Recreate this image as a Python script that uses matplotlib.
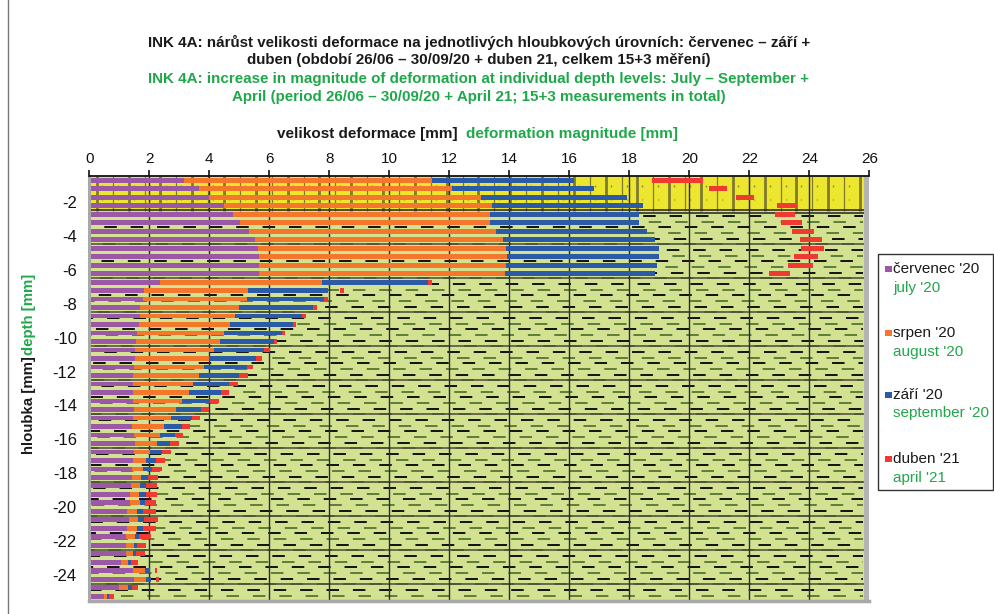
import matplotlib
matplotlib.use("Agg")
import matplotlib.pyplot as plt
from matplotlib.patches import Rectangle
from matplotlib.lines import Line2D
from matplotlib.transforms import ScaledTranslation
import numpy as np

plt.rcParams['font.family'] = ['Liberation Sans', 'DejaVu Sans']
plt.rcParams['lines.scale_dashes'] = False

# depth levels (m), one bar per 0.5 m
depth = [-0.5 * (i + 1) for i in range(50)]

# cumulative deformation at the end of each period [mm]
jul_total = [3.16, 3.66, 4.00, 4.49, 4.79, 5.02, 5.32, 5.52, 5.62, 5.66,
             5.66, 5.66, 2.36, 1.82, 1.79, 1.69, 1.69, 1.66, 1.59, 1.56,
             1.52, 1.52, 1.49, 1.46, 1.46, 1.46, 1.46, 1.49, 1.46, 1.42,
             1.49, 1.52, 1.49, 1.46, 1.42, 1.42, 1.39, 1.36, 1.36, 1.26,
             1.32, 1.26, 1.22, 1.22, 1.22, 1.06, 1.46, 1.49, 0.99, 0.49]
aug_total = [11.41, 12.09, 13.06, 13.42, 13.36, 13.36, 13.56, 13.79, 13.89, 13.92,
             13.89, 13.86, 7.76, 5.29, 5.26, 4.99, 4.86, 4.69, 4.49, 4.36,
             4.16, 3.99, 3.82, 3.66, 3.46, 3.32, 3.09, 2.89, 2.72, 2.49,
             2.36, 2.26, 2.02, 1.89, 1.79, 1.72, 1.69, 1.66, 1.69, 1.59,
             1.62, 1.59, 1.52, 1.49, 1.46, 1.29, 1.86, 1.89, 1.29, 0.59]
sep_total = [16.16, 16.82, 17.92, 18.46, 18.32, 18.32, 18.59, 18.86, 18.99, 18.99,
             18.92, 18.86, 11.28, 7.96, 7.82, 7.46, 7.09, 6.79, 6.42, 6.16,
             5.82, 5.56, 5.26, 4.99, 4.66, 4.39, 4.02, 3.72, 3.42, 3.09,
             2.86, 2.69, 2.42, 2.22, 2.09, 1.96, 1.89, 1.89, 1.86, 1.79,
             1.82, 1.79, 1.66, 1.59, 1.56, 1.39, 2.02, 2.06, 1.42, 0.66]
# April 2021 measurement: extent of the bar [mm]
apr_from = [18.76, 20.66, 21.56, 22.91, 22.85, 23.05, 23.42, 23.69, 23.72, 23.49,
            23.29, 22.65, 11.28, 8.35, 7.82, 7.46, 7.09, 6.79, 6.42, 6.16,
            5.82, 5.56, 5.26, 4.99, 4.66, 4.39, 4.02, 3.72, 3.42, 3.09,
            2.86, 2.69, 2.42, 2.22, 2.09, 1.96, 1.89, 1.89, 1.86, 1.79,
            1.82, 1.79, 1.66, 1.59, 1.56, 1.39, 2.19, 2.22, 1.42, 0.66]
apr_to = [20.45, 21.26, 22.16, 23.58, 23.52, 23.75, 24.16, 24.42, 24.49, 24.29,
          24.12, 23.36, 11.41, 8.50, 7.96, 7.59, 7.22, 6.89, 6.52, 6.26,
          6.02, 5.76, 5.46, 5.29, 4.96, 4.66, 4.32, 3.99, 3.69, 3.36,
          3.12, 2.99, 2.72, 2.52, 2.42, 2.29, 2.26, 2.26, 2.22, 2.22,
          2.29, 2.22, 2.06, 1.89, 1.86, 1.62, 2.26, 2.32, 1.62, 0.82]

x_ticks = list(range(0, 27, 2))
y_ticks = [-2, -4, -6, -8, -10, -12, -14, -16, -18, -20, -22, -24]

C_JUL = '#9b58a5'
C_AUG = '#f4772b'
C_SEP = '#2b5aa6'
C_APR = '#ee3a30'
C_GREEN_TXT = '#1fa84a'
C_CLAY = '#d2e291'
C_SAND = '#ede62e'

W, H = 995, 614
fig = plt.figure(figsize=(W / 100, H / 100), dpi=100)
fig.patch.set_facecolor('white')

def fx(px):
    return px / W

def fy(py):
    return 1 - py / H

ax = fig.add_axes([fx(89.3), fy(600.5), fx(869.3) - fx(89.3), fy(176) - fy(600.5)])
Y_TOP, Y_BOT = -0.26, -25.24
ax.set_xlim(0, 26)
ax.set_ylim(Y_BOT, Y_TOP)

# geological background: sandy top layer and clay below
sand_base = -2.32
ax.axhspan(Y_BOT, sand_base, color=C_CLAY, zorder=0, lw=0)
ax.axhspan(sand_base, Y_TOP, color=C_SAND, zorder=0, lw=0)
for i, xv in enumerate(np.arange(0.25, 25.8, 0.53)):
    ax.vlines(xv, sand_base, Y_TOP, colors='#7f7b2c', lw=2.0 if i % 2 == 0 else 0.9, zorder=0.5)
    ax.vlines(xv + 0.17, -0.9, -0.8, colors='#8f8b40', lw=1.0, zorder=0.5)
    ax.vlines(xv + 0.17, -1.7, -1.6, colors='#8f8b40', lw=1.0, zorder=0.5)

# clay symbol: dashed strokes
rows = np.arange(-2.62, -25.2, -1 / 3)
for i, yv in enumerate(rows):
    col = '#111111' if i % 2 == 0 else '#5f7d38'
    off = (i * 37) % 22
    ax.hlines(yv, 0, 25.8, colors=col, lw=1.4,
              linestyles=[(off, (9, 10))], zorder=0.6)

# layer boundaries
ax.axhline(-2.26, color='#222222', lw=1.1, zorder=0.8)
ax.axhline(-2.46, color='#222222', lw=1.1, zorder=0.8)
for k in range(11):
    ax.axhline(-4.28 - 2 * k, color='#4a4a3a', lw=1.1, zorder=0.8)

# right-hand edge strip
ax.axvspan(25.82, 26, color='#b4b4b4', zorder=0.9, lw=0)

# vertical grid
for xv in x_ticks[1:-1]:
    ax.axvline(xv, color='#2a2a2a', lw=1.0, zorder=1)

# stacked bars
bh = 0.29
jul = np.array(jul_total)
aug = np.array(aug_total)
sep = np.array(sep_total)
a0 = np.array(apr_from)
a1 = np.array(apr_to)
ax.barh(depth, jul, height=bh, color=C_JUL, zorder=2, lw=0)
ax.barh(depth, aug - jul, left=jul, height=bh, color=C_AUG, zorder=2, lw=0)
ax.barh(depth, sep - aug, left=aug, height=bh, color=C_SEP, zorder=2, lw=0)
ax.barh(depth, a1 - a0, left=a0, height=bh, color=C_APR, zorder=2, lw=0)

# axes styling
ax.xaxis.tick_top()
ax.set_xticks(x_ticks)
ax.set_xticklabels([str(v) for v in x_ticks], fontsize=11)
ax.tick_params(axis='x', direction='out', length=4, width=1.2, pad=3, colors='#111111')
ax.set_yticks(y_ticks)
ax.set_yticklabels([str(v) for v in y_ticks], fontsize=12)
ax.tick_params(axis='y', length=0, pad=9, colors='#111111')
for lbl in ax.get_yticklabels():
    lbl.set_transform(lbl.get_transform() + ScaledTranslation(0, 4 / 100, fig.dpi_scale_trans))
ax.spines['top'].set_color('#111111')
ax.spines['top'].set_linewidth(1.3)
ax.spines['left'].set_color('#a8a8a8')
ax.spines['left'].set_linewidth(2.2)
ax.spines['bottom'].set_color('#a8a8a8')
ax.spines['bottom'].set_linewidth(2.5)
ax.spines['right'].set_visible(False)

# titles
title_kw = dict(ha='center', va='center', fontsize=10.9, fontweight='bold')
fig.text(fx(479), fy(42), 'INK 4A: nárůst velikosti deformace na jednotlivých hloubkových úrovních: červenec – září +',
         color='#1a1a1a', **title_kw)
fig.text(fx(479), fy(60), 'duben (období 26/06 – 30/09/20 + duben 21, celkem 15+3 měření)',
         color='#1a1a1a', **title_kw)
fig.text(fx(479), fy(79), 'INK 4A: increase in magnitude of deformation at individual depth levels: July – September +',
         color=C_GREEN_TXT, **title_kw)
fig.text(fx(479), fy(97), 'April (period 26/06 – 30/09/20 + April 21; 15+3 measurements in total)',
         color=C_GREEN_TXT, **title_kw)

# axis labels
fig.text(fx(458), fy(134), 'velikost deformace [mm]', ha='right', va='center',
         fontsize=11, fontweight='bold', color='#1a1a1a')
fig.text(fx(466), fy(134), 'deformation magnitude [mm]', ha='left', va='center',
         fontsize=11, fontweight='bold', color=C_GREEN_TXT)
fig.text(fx(29), fy(405), 'hloubka [mm]', ha='center', va='center', rotation=90,
         fontsize=10.8, fontweight='bold', color='#1a1a1a')
fig.text(fx(29), fy(314), 'depth [mm]', ha='center', va='center', rotation=90,
         fontsize=10.8, fontweight='bold', color=C_GREEN_TXT)

# legend
fig.patches.append(Rectangle((fx(877.7), fy(490)), fx(993) - fx(877.7), fy(254) - fy(490),
                             transform=fig.transFigure, fill=False, ec='#333333', lw=1.0))
legend_items = [("červenec '20", "july '20", C_JUL, 269, 288),
                ("srpen '20", "august '20", C_AUG, 333, 352),
                ("září '20", "september '20", C_SEP, 395, 413),
                ("duben '21", "april '21", C_APR, 459, 478)]
for cz, en, col, y1, y2 in legend_items:
    fig.patches.append(Rectangle((fx(885), fy(y1 + 3.3)), fx(6.6), 6.6 / H,
                                 transform=fig.transFigure, color=col, lw=0))
    fig.text(fx(893), fy(y1), cz, ha='left', va='center', fontsize=11, color='#1a1a1a')
    fig.text(fx(893), fy(y2), en, ha='left', va='center', fontsize=11, color=C_GREEN_TXT)

# outer frame line
fig.add_artist(Line2D([fx(8), fx(8)], [0, 1], transform=fig.transFigure, color='#777777', lw=1.0))

fig.savefig('out.png', dpi=100, facecolor='white')
